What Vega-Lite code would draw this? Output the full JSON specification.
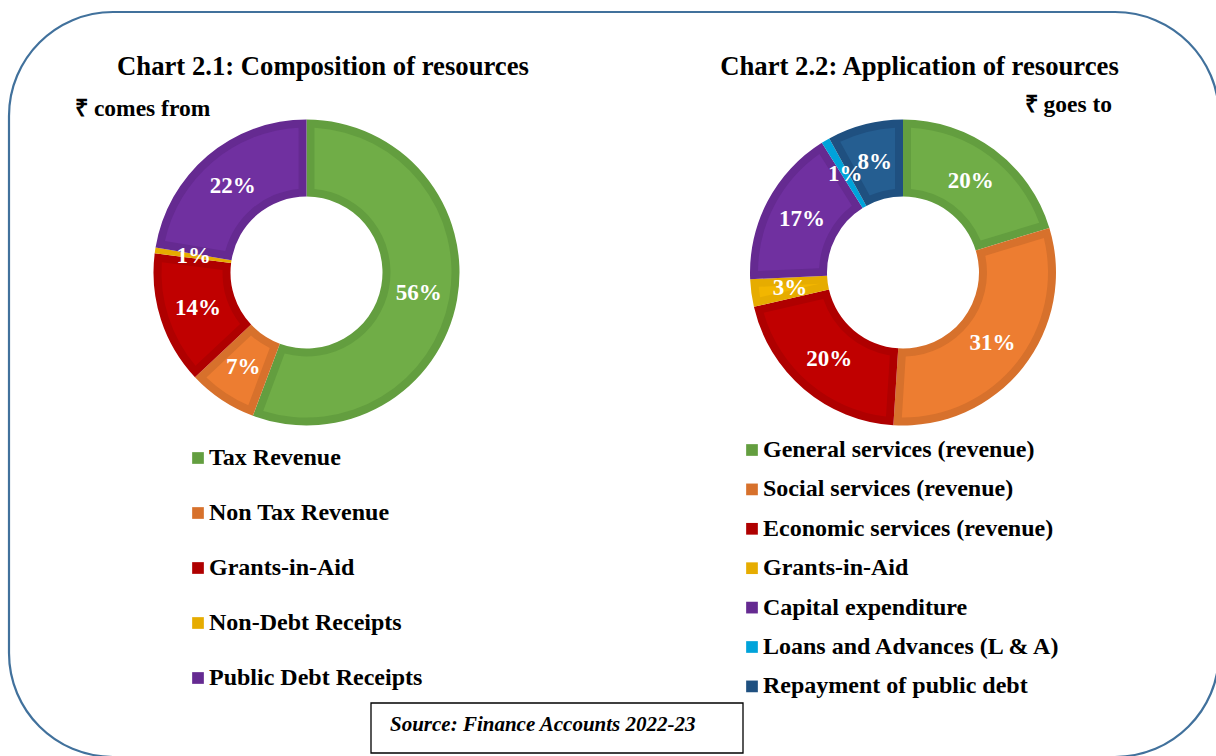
{
  "$schema": "https://vega.github.io/schema/vega-lite/v6.json",
  "autosize": "none",
  "width": 1210,
  "height": 745,
  "padding": {"left": 9, "top": 12, "right": 0, "bottom": 0},
  "background": "white",
  "config": {
    "font": "Liberation Serif",
    "view": {"stroke": "#41719C", "strokeWidth": 2.2, "cornerRadius": 104}
  },
  "datasets": {
    "resources": [
      {"chart": "2.1", "i": 1, "item": "Tax Revenue", "share": 0.557},
      {"chart": "2.1", "i": 2, "item": "Non Tax Revenue", "share": 0.073},
      {"chart": "2.1", "i": 3, "item": "Grants-in-Aid", "share": 0.140},
      {"chart": "2.1", "i": 4, "item": "Non-Debt Receipts", "share": 0.006},
      {"chart": "2.1", "i": 5, "item": "Public Debt Receipts", "share": 0.224}
    ],
    "application": [
      {"chart": "2.2", "i": 1, "item": "General services (revenue)", "share": 0.203},
      {"chart": "2.2", "i": 2, "item": "Social services (revenue)", "share": 0.307},
      {"chart": "2.2", "i": 3, "item": "Economic services (revenue)", "share": 0.204},
      {"chart": "2.2", "i": 4, "item": "Grants-in-Aid", "share": 0.029},
      {"chart": "2.2", "i": 5, "item": "Capital expenditure", "share": 0.168},
      {"chart": "2.2", "i": 6, "item": "Loans and Advances (L & A)", "share": 0.009},
      {"chart": "2.2", "i": 7, "item": "Repayment of public debt", "share": 0.080}
    ]
  },
  "layer": [
    {
      "data": {"name": "resources"},
      "encoding": {
        "x": {"field": "chart", "type": "nominal", "scale": {"type": "point", "domain": ["2.1", "2.2"], "range": [297.5, 894], "padding": 0}, "axis": null},
        "y": {"field": "chart", "type": "nominal", "scale": {"type": "point", "domain": ["2.1", "2.2"], "range": [260.5, 260.5], "padding": 0}, "axis": null},
        "theta": {"field": "share", "type": "quantitative", "stack": true, "scale": {"domain": [0, 1]}},
        "order": {"field": "i", "type": "quantitative"},
        "detail": {"field": "item", "type": "nominal"}
      },
      "layer": [
        {
          "mark": {"type": "arc", "innerRadius": 76, "outerRadius": 153},
          "encoding": {
            "color": {
              "field": "item", "type": "nominal",
              "scale": {
                "domain": ["Tax Revenue", "Non Tax Revenue", "Grants-in-Aid", "Non-Debt Receipts", "Public Debt Receipts"],
                "range": ["#639E3F", "#D7712C", "#AF0000", "#E6AC00", "#652A91"]
              },
              "legend": {
                "orient": "none", "legendX": 177, "legendY": 434, "title": null,
                "symbolType": "square", "symbolSize": 137, "symbolStrokeWidth": 0,
                "labelFont": "Liberation Serif", "labelFontSize": 24, "labelFontWeight": "bold",
                "labelColor": "black", "labelLimit": 500, "rowPadding": 31, "labelOffset": -1
              }
            }
          }
        },
        {
          "mark": {"type": "arc", "innerRadius": 84, "outerRadius": 145, "padAngle": 0.095},
          "encoding": {
            "fill": {
              "field": "item", "type": "nominal",
              "scale": {
                "domain": ["Tax Revenue", "Non Tax Revenue", "Grants-in-Aid", "Non-Debt Receipts", "Public Debt Receipts"],
                "range": ["#70AD47", "#ED7D31", "#C00000", "#F2B600", "#7030A0"]
              },
              "legend": null
            }
          }
        },
        {
          "mark": {"type": "text", "radius": 114, "fill": "white", "fontSize": 23, "fontWeight": "bold", "align": "center", "baseline": "middle"},
          "encoding": {"text": {"field": "share", "type": "quantitative", "format": ".0%"}}
        }
      ]
    },
    {
      "data": {"name": "application"},
      "encoding": {
        "x": {"field": "chart", "type": "nominal", "scale": {"type": "point", "domain": ["2.1", "2.2"], "range": [297.5, 894], "padding": 0}, "axis": null},
        "y": {"field": "chart", "type": "nominal", "scale": {"type": "point", "domain": ["2.1", "2.2"], "range": [260.5, 260.5], "padding": 0}, "axis": null},
        "theta": {"field": "share", "type": "quantitative", "stack": true, "scale": {"domain": [0, 1]}},
        "order": {"field": "i", "type": "quantitative"},
        "detail": {"field": "item", "type": "nominal"}
      },
      "layer": [
        {
          "mark": {"type": "arc", "innerRadius": 76, "outerRadius": 153},
          "encoding": {
            "color": {
              "field": "item", "type": "nominal",
              "scale": {
                "domain": ["General services (revenue)", "Social services (revenue)", "Economic services (revenue)", "Grants-in-Aid", "Capital expenditure", "Loans and Advances (L & A)", "Repayment of public debt"],
                "range": ["#639E3F", "#D7712C", "#AF0000", "#E6AC00", "#652A91", "#00A3DA", "#1F5080"]
              },
              "legend": {
                "orient": "none", "legendX": 731, "legendY": 426, "title": null,
                "symbolType": "square", "symbolSize": 137, "symbolStrokeWidth": 0,
                "labelFont": "Liberation Serif", "labelFontSize": 24, "labelFontWeight": "bold",
                "labelColor": "black", "labelLimit": 500, "rowPadding": 15.4, "labelOffset": -1
              }
            }
          }
        },
        {
          "mark": {"type": "arc", "innerRadius": 84, "outerRadius": 145, "padAngle": 0.095},
          "encoding": {
            "fill": {
              "field": "item", "type": "nominal",
              "scale": {
                "domain": ["General services (revenue)", "Social services (revenue)", "Economic services (revenue)", "Grants-in-Aid", "Capital expenditure", "Loans and Advances (L & A)", "Repayment of public debt"],
                "range": ["#70AD47", "#ED7D31", "#C00000", "#F2B600", "#7030A0", "#00B0F0", "#255E91"]
              },
              "legend": null
            }
          }
        },
        {
          "mark": {"type": "text", "radius": 114, "fill": "white", "fontSize": 23, "fontWeight": "bold", "align": "center", "baseline": "middle"},
          "encoding": {"text": {"field": "share", "type": "quantitative", "format": ".0%"}}
        }
      ]
    },
    {
      "data": {"values": [{"label": "Chart 2.1: Composition of resources"}]},
      "mark": {"type": "text", "x": 314, "y": 63, "align": "center", "baseline": "alphabetic", "fontSize": 26.7, "fontWeight": "bold", "fill": "black"},
      "encoding": {"text": {"field": "label", "type": "nominal"}}
    },
    {
      "data": {"values": [{"label": "Chart 2.2: Application of resources"}]},
      "mark": {"type": "text", "x": 910.5, "y": 63, "align": "center", "baseline": "alphabetic", "fontSize": 26.7, "fontWeight": "bold", "fill": "black"},
      "encoding": {"text": {"field": "label", "type": "nominal"}}
    },
    {
      "data": {"values": [{"label": "₹ comes from"}]},
      "mark": {"type": "text", "x": 66, "y": 104, "align": "left", "baseline": "alphabetic", "fontSize": 23.5, "fontWeight": "bold", "fill": "black"},
      "encoding": {"text": {"field": "label", "type": "nominal"}}
    },
    {
      "data": {"values": [{"label": "₹ goes to"}]},
      "mark": {"type": "text", "x": 1103, "y": 100, "align": "right", "baseline": "alphabetic", "fontSize": 23.5, "fontWeight": "bold", "fill": "black"},
      "encoding": {"text": {"field": "label", "type": "nominal"}}
    },
    {
      "data": {"values": [{"label": "Source: Finance Accounts 2022-23"}]},
      "layer": [
        {
          "mark": {"type": "rect", "x": 362, "x2": 734, "y": 691, "y2": 741, "fill": "white", "stroke": "black", "strokeWidth": 1.3},
          "encoding": {}
        },
        {
          "mark": {"type": "text", "x": 381, "y": 719, "align": "left", "baseline": "alphabetic", "fontSize": 21, "fontWeight": "bold", "fontStyle": "italic", "fill": "black"},
          "encoding": {"text": {"field": "label", "type": "nominal"}}
        }
      ]
    }
  ],
  "resolve": {"scale": {"color": "independent", "fill": "independent"}, "legend": {"color": "independent"}}
}
